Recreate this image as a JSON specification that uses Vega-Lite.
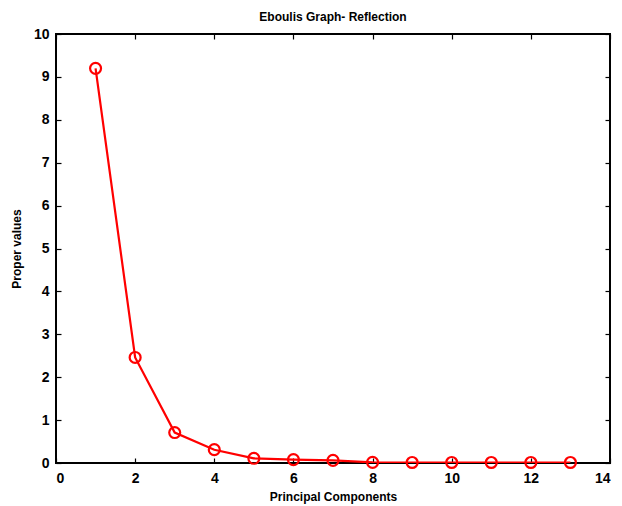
{
  "$schema": "https://vega.github.io/schema/vega-lite/v6.json",
  "autosize": "none",
  "width": 554,
  "height": 429,
  "padding": {"left": 56, "top": 34, "right": 12, "bottom": 43},
  "background": "white",
  "title": {
    "text": "Eboulis Graph- Reflection",
    "font": "Liberation Sans",
    "fontSize": 12,
    "fontWeight": "bold",
    "color": "black",
    "offset": 3
  },
  "config": {
    "view": {"stroke": "black", "strokeWidth": 2},
    "axis": {
      "labelFont": "Liberation Sans",
      "labelFontSize": 14,
      "labelFontWeight": "bold",
      "labelColor": "black",
      "titleFont": "Liberation Sans",
      "titleFontSize": 12,
      "titleFontWeight": "bold",
      "titleColor": "black",
      "grid": false,
      "domain": false,
      "tickColor": "black",
      "tickSize": -5,
      "tickWidth": 1.2
    }
  },
  "data": {
    "values": [
      {"component": 1, "value": 9.2},
      {"component": 2, "value": 2.46},
      {"component": 3, "value": 0.71},
      {"component": 4, "value": 0.31},
      {"component": 5, "value": 0.11},
      {"component": 6, "value": 0.08},
      {"component": 7, "value": 0.06},
      {"component": 8, "value": 0.015},
      {"component": 9, "value": 0.012},
      {"component": 10, "value": 0.012},
      {"component": 11, "value": 0.012},
      {"component": 12, "value": 0.012},
      {"component": 13, "value": 0.012}
    ]
  },
  "layer": [
    {
      "mark": {"type": "line", "color": "#ff0000", "strokeWidth": 2.2, "clip": true},
      "encoding": {
        "x": {
          "field": "component",
          "type": "quantitative",
          "scale": {"domain": [0, 14], "nice": false},
          "axis": {"values": [0, 2, 4, 6, 8, 10, 12, 14], "title": "Principal Components", "titlePadding": 6, "labelPadding": 13}
        },
        "y": {
          "field": "value",
          "type": "quantitative",
          "scale": {"domain": [0, 10], "nice": false},
          "axis": {"values": [0, 1, 2, 3, 4, 5, 6, 7, 8, 9, 10], "title": "Proper values", "titlePadding": 10, "labelPadding": 12}
        }
      }
    },
    {
      "mark": {"type": "point", "shape": "circle", "filled": false, "color": "#ff0000", "opacity": 1, "strokeWidth": 2.2, "size": 120},
      "encoding": {
        "x": {
          "field": "component",
          "type": "quantitative",
          "axis": {"orient": "top", "values": [0, 2, 4, 6, 8, 10, 12, 14], "labels": false, "title": null}
        },
        "y": {
          "field": "value",
          "type": "quantitative",
          "axis": {"orient": "right", "values": [0, 1, 2, 3, 4, 5, 6, 7, 8, 9, 10], "labels": false, "title": null}
        }
      }
    }
  ],
  "resolve": {"axis": {"x": "independent", "y": "independent"}}
}
